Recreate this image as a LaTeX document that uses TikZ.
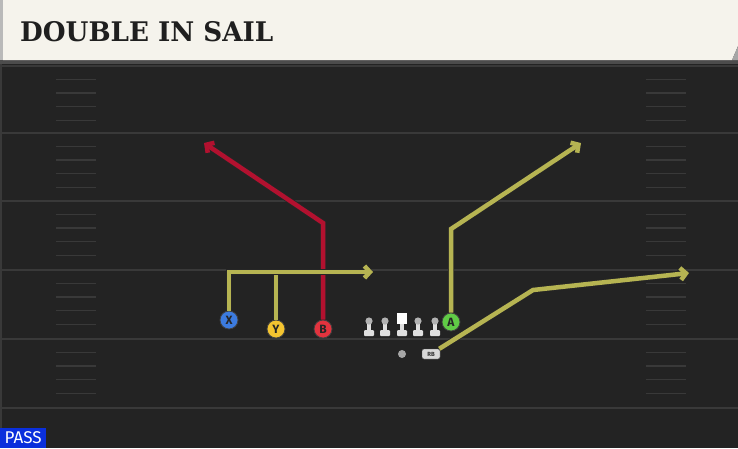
\documentclass[tikz,border=0pt]{standalone}
\usepackage{fontspec}
\usetikzlibrary{arrows.meta}
\newfontfamily\titlefont{DejaVu Serif}
\newfontfamily\labelfont{Fira Sans}
\definecolor{field}{HTML}{232323}
\definecolor{yardline}{HTML}{393939}
\definecolor{cream}{HTML}{F5F3EC}
\definecolor{olive}{HTML}{B6B452}
\definecolor{crimson}{HTML}{B2112F}
\definecolor{xblue}{HTML}{3C7BDF}
\definecolor{yyellow}{HTML}{F4C430}
\definecolor{bred}{HTML}{E2333E}
\definecolor{agreen}{HTML}{60CB46}
\definecolor{passblue}{HTML}{0A2FDC}
\tikzset{
  player/.style={circle, fill=#1, draw=black!75, line width=0.8pt, minimum size=18pt,
    inner sep=0pt, font=\labelfont\bfseries\fontsize{12}{12}\selectfont, text=black!85},
  route/.style={draw=#1, line width=4.5pt, line join=miter,
    preaction={draw=black!85, line width=6pt}},
  tip/.style={-{Straight Barb[length=5.5pt,width=12pt]}},
  hash/.style={draw=yardline, line width=1.4pt}
}
\begin{document}
\begin{tikzpicture}[x=1pt,y=-1pt]
    \useasboundingbox (0,0) rectangle (738,448);
    % Field
    \fill[field] (0,0) rectangle (738,448);
    \fill[yardline] (0,60) rectangle (2,448);
    \foreach \y in {66,133,201,270,339,408}
        \draw[yardline, line width=1.8pt] (2,\y) -- (738,\y);
    \foreach \y in {66,133,201,270,339}
        \foreach \d in {13.5,27,40.5,54.5} {
            \draw[hash] (56,\y+\d) -- (96,\y+\d);
            \draw[hash] (646,\y+\d) -- (686,\y+\d);
        }

    % Title bar
    \fill[black!70] (0,60) rectangle (738,64);
    \fill[cream] (3,0) -- (738,0) -- (738,46) -- (732,60) -- (3,60) -- cycle;
    \fill[gray!55] (0,0) rectangle (3,60);
    \fill[gray!70] (738,46) -- (732,60) -- (738,60) -- cycle;
    \node[anchor=west, inner sep=0pt, font=\titlefont\bfseries\fontsize{27}{27}\selectfont, text=black!88]
        (title) at (20,32) {\scalebox{0.97}[1]{DOUBLE IN SAIL}};

    % Line
    \foreach \x in {369,385,418,435} {
        \fill[gray!25, rounded corners=1pt] (\x-5,330) rectangle (\x+5,336);
        \fill[gray!25] (\x-1.8,323) rectangle (\x+1.8,331);
        \fill[gray!60] (\x,321) circle (3.6);
    }
    \fill[gray!25, rounded corners=1pt] (397,330) rectangle (407,336);
    \fill[gray!25] (400.2,323) rectangle (403.8,331);
    \fill[white] (397,313) rectangle (407,324);

    % Skill players
    \node[player=xblue] (X) at (229,320) {X};
    \node[player=yyellow] (Y) at (276,329) {Y};
    \node[player=bred] (B) at (323,329) {B};
    \node[player=agreen] (A) at (451,322) {A};
    \node[circle, fill=gray!70, minimum size=8pt, inner sep=0pt] (QB) at (402,354) {};
    \node[fill=gray!30, draw=black!70, rounded corners=2pt, minimum width=18pt, minimum height=10pt,
        inner sep=0pt, font=\labelfont\bfseries\fontsize{6}{6}\selectfont, text=black!80] (RB) at (431,354) {RB};

    % Turns
    \coordinate (Bcut) at (323,223);
    \coordinate (Bend) at (204,143);
    \coordinate (Xcut) at (229,272);
    \coordinate (Ycut) at (276,272);
    \coordinate (Xend) at (373,272);
    \coordinate (Acut) at (451,229);
    \coordinate (Aend) at (581,143);
    \coordinate (RBcut) at (533,290);
    \coordinate (RBend) at (689,273);

    % Routes
    \draw[route=crimson, tip] (B) -- (Bcut) -- (Bend);
    \draw[route=olive] (Y) -- (Ycut);
    \draw[route=olive, tip] (X) -- (Xcut) -- (Xend);
    \draw[route=olive, tip] (A) -- (Acut) -- (Aend);
    \draw[route=olive, tip] (RB) -- (RBcut) -- (RBend);

    % Play type
    \node[fill=passblue, text=white, anchor=south west, minimum width=46pt, minimum height=20pt,
        inner sep=0pt, font=\labelfont\fontsize{17}{17}\selectfont] (pass) at (0,448) {PASS};
\end{tikzpicture}
\end{document}
